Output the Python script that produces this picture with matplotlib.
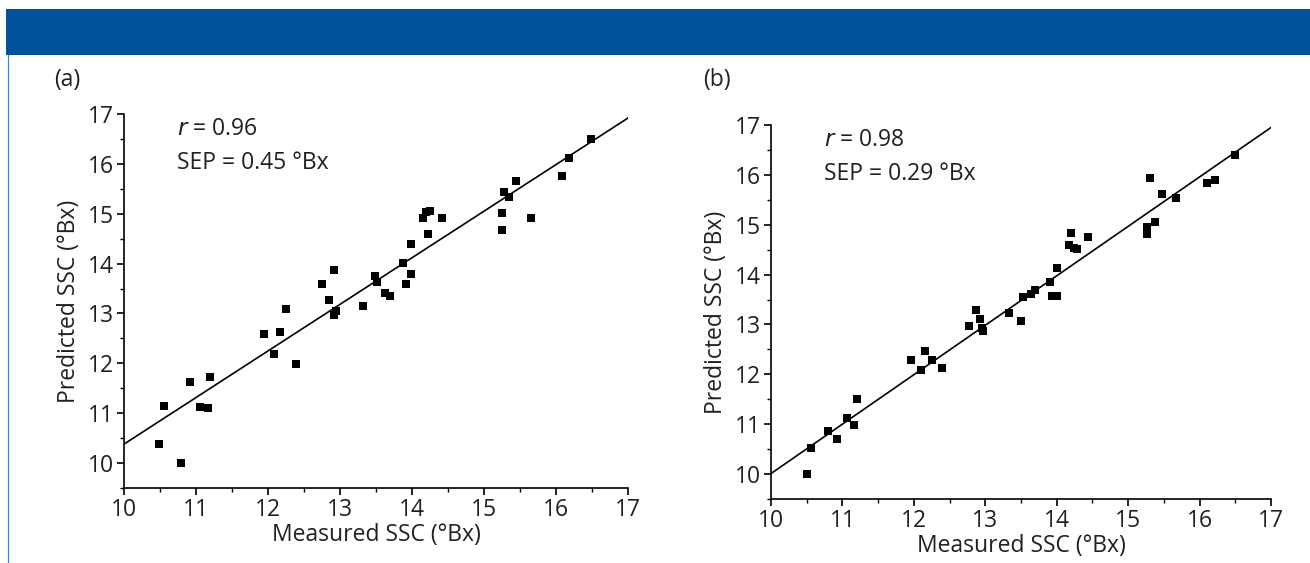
import matplotlib
matplotlib.use("Agg")
import matplotlib.pyplot as plt
from matplotlib.patches import Rectangle
from matplotlib.lines import Line2D
from matplotlib.ticker import MultipleLocator

plt.rcParams['font.family'] = ['Open Sans', 'DejaVu Sans']

# Panel (a): measured vs predicted SSC
meas_a = [10.49, 10.56, 10.79, 10.92, 11.06, 11.16, 11.19, 11.95, 12.09, 12.16,
          12.25, 12.39, 12.75, 12.85, 12.92, 12.92, 12.95, 13.32, 13.49, 13.52,
          13.63, 13.69, 13.88, 13.92, 13.98, 13.98, 14.15, 14.19, 14.22, 14.25,
          14.42, 15.25, 15.25, 15.28, 15.35, 15.45, 15.65, 16.08, 16.18, 16.48]
pred_a = [10.38, 11.15, 10.01, 11.63, 11.13, 11.11, 11.73, 12.59, 12.19, 12.63,
          13.09, 11.98, 13.60, 13.28, 13.88, 12.97, 13.05, 13.15, 13.75, 13.63,
          13.41, 13.35, 14.01, 13.60, 13.79, 14.39, 14.91, 15.03, 14.60, 15.06,
          14.91, 15.01, 14.67, 15.43, 15.33, 15.66, 14.91, 15.75, 16.11, 16.49]
fit_x_a = [10.0, 17.0]
fit_y_a = [10.38, 16.92]

# Panel (b)
meas_b = [10.50, 10.56, 10.80, 10.93, 11.06, 11.16, 11.20, 11.96, 12.10, 12.16,
          12.26, 12.40, 12.77, 12.87, 12.93, 12.95, 12.97, 13.33, 13.50, 13.53,
          13.64, 13.70, 13.90, 13.94, 14.00, 14.00, 14.17, 14.20, 14.24, 14.28,
          14.44, 15.27, 15.27, 15.30, 15.37, 15.47, 15.67, 16.10, 16.21, 16.50]
pred_b = [10.00, 10.53, 10.86, 10.71, 11.12, 10.98, 11.50, 12.28, 12.08, 12.47,
          12.28, 12.12, 12.96, 13.30, 13.10, 12.93, 12.86, 13.22, 13.06, 13.55,
          13.61, 13.69, 13.86, 13.58, 13.58, 14.13, 14.60, 14.84, 14.53, 14.51,
          14.75, 14.81, 14.95, 15.93, 15.05, 15.62, 15.54, 15.84, 15.89, 16.39]
fit_x_b = [10.0, 17.0]
fit_y_b = [10.01, 16.95]

stats_a = ("0.96", "0.45")
stats_b = ("0.98", "0.29")
panel_labels = ["(a)", "(b)"]
x_ticks = [10, 11, 12, 13, 14, 15, 16, 17]
y_ticks = [10, 11, 12, 13, 14, 15, 16, 17]

W, H = 1310, 563
TEXT = "#231f20"
BLUE = "#00529b"
FS = 16.5

fig = plt.figure(figsize=(W / 100, H / 100), dpi=100)
fig.patch.set_facecolor("white")

# header band and left rule
fig.add_artist(Rectangle((6 / W, 1 - 55 / H), 1 - 6 / W, 46 / H,
                         transform=fig.transFigure, facecolor=BLUE,
                         edgecolor="none"))
fig.add_artist(Line2D([8 / W, 8 / W], [0, 1 - 55 / H], transform=fig.transFigure,
                      color="#4a80c4", lw=0.9))


def make_panel(rect, mx, py, fx, fy, stats, label, label_xy):
    ax = fig.add_axes(rect)
    ax.scatter(mx, py, marker="s", s=38, color="black", linewidths=0, zorder=3)
    ax.plot(fx, fy, color="black", lw=1.2, zorder=2)
    ax.set_xlim(10, 17)
    ax.set_ylim(9.5, 17)
    ax.set_xticks(x_ticks)
    ax.set_yticks(y_ticks)
    ax.xaxis.set_minor_locator(MultipleLocator(0.5))
    ax.yaxis.set_minor_locator(MultipleLocator(0.5))
    for s in ("top", "right"):
        ax.spines[s].set_visible(False)
    for s in ("left", "bottom"):
        ax.spines[s].set_linewidth(1.2)
        ax.spines[s].set_color("black")
    ax.tick_params(which="major", direction="out", length=5, width=1.2,
                   labelsize=FS, colors="black", labelcolor=TEXT, pad=2)
    ax.tick_params(which="minor", direction="out", length=3, width=1.0,
                   colors="black")
    ax.set_xlabel("Measured SSC (°Bx)", fontsize=FS, color=TEXT, labelpad=1)
    ax.set_ylabel("Predicted SSC (°Bx)", fontsize=FS, color=TEXT, labelpad=5)
    ax.text(0.105, 0.96, r"$\it{r}$ = " + stats[0], transform=ax.transAxes,
            fontsize=FS, color=TEXT, va="center", ha="left")
    ax.text(0.105, 0.87, "SEP = " + stats[1] + " °Bx", transform=ax.transAxes,
            fontsize=FS, color=TEXT, va="center", ha="left")
    fig.text(label_xy[0] / W, 1 - label_xy[1] / H, label, fontsize=FS,
             color=TEXT, ha="left", va="center")
    return ax


make_panel([124 / W, 1 - 488 / H, 504 / W, 374 / H], meas_a, pred_a,
           fit_x_a, fit_y_a, stats_a, panel_labels[0], (54, 80))
make_panel([771 / W, 1 - 499 / H, 500 / W, 374 / H], meas_b, pred_b,
           fit_x_b, fit_y_b, stats_b, panel_labels[1], (703, 80))

fig.savefig("out.png", dpi=100)
